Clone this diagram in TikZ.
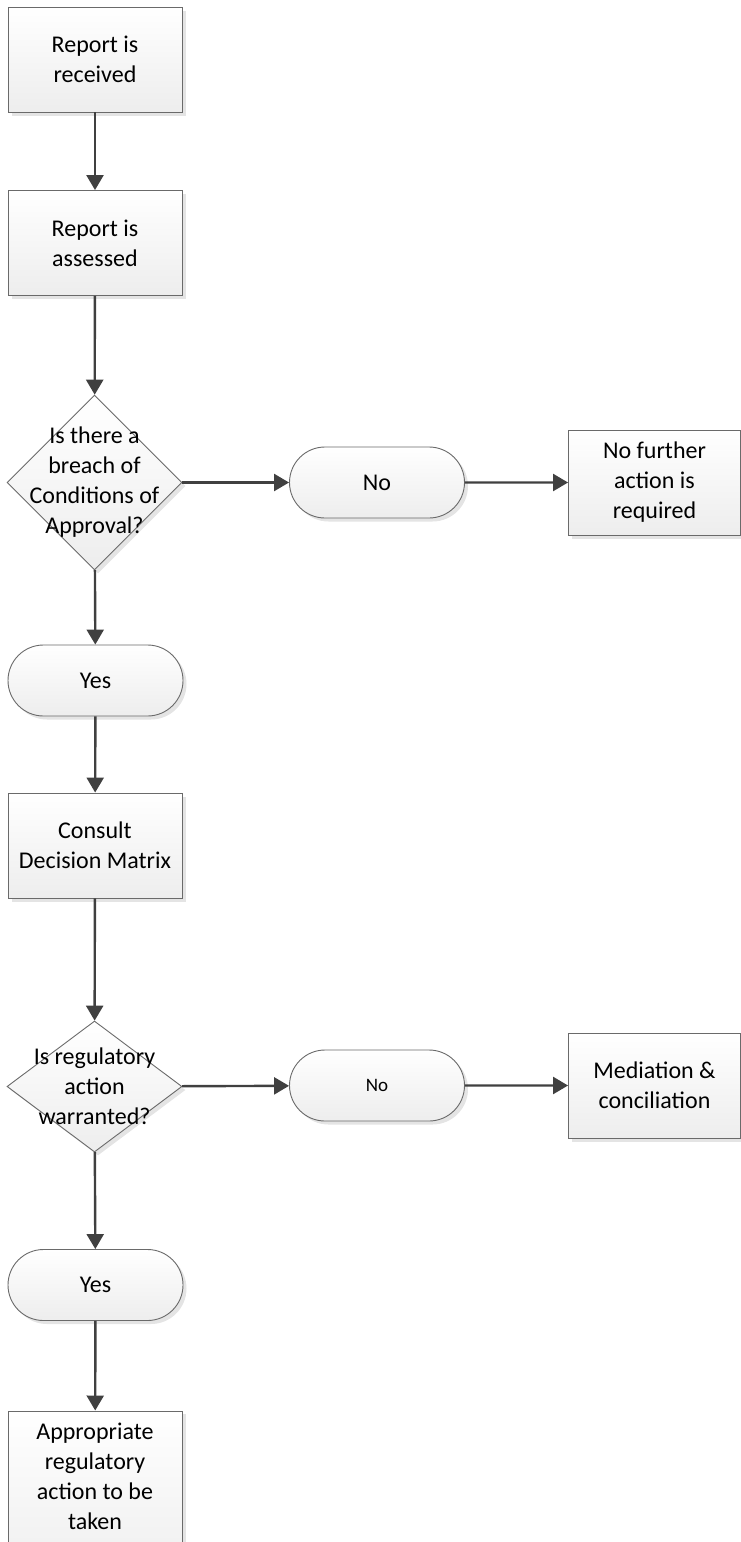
\documentclass[tikz,border=0pt]{standalone}
\usepackage{fontspec}
\setmainfont{Carlito}
\usetikzlibrary{shapes.geometric,shapes.misc,arrows.meta,shadows}
\definecolor{edge}{HTML}{6A6A6A}
\definecolor{arrowc}{HTML}{404040}
\tikzset{
  x=1pt, y=1pt,
  every node/.style={font=\fontsize{24}{30}\selectfont, text=black},
  shade/.style={top color=white, bottom color=gray!14, draw=edge, line width=0.9pt,
    drop shadow={shadow xshift=3.5pt, shadow yshift=-3.5pt, fill=gray!35, opacity=0.6}},
  procbox/.style={shade, rectangle, minimum width=174pt, minimum height=105pt, align=center, inner sep=2pt},
  sidebox/.style={shade, rectangle, minimum width=172pt, minimum height=105pt, align=center, inner sep=2pt},
  term/.style={shade, rounded rectangle, minimum width=175pt, minimum height=71pt, inner sep=0pt},
  decision/.style={shade, diamond, inner sep=0pt},
  dtext/.style={align=center, inner sep=0pt},
  conn/.style={draw=arrowc, line width=2.4pt, -{Triangle[length=15pt,width=17pt]}},
}
\begin{document}
\begin{tikzpicture}
\useasboundingbox (0,0) rectangle (741,-1542);
\begin{scope}
\clip (-5,5) rectangle (746,-1542);
\node[procbox] (r1) at (95,-59.5) {Report is\\received};
\node[procbox] (r2) at (95,-243) {Report is\\assessed};
\node[decision, minimum width=175pt, minimum height=175pt] (d1) at (94.5,-482.5) {};
\node[dtext] (d1t) at (d1.center) {Is there a\\breach of\\Conditions of\\Approval?};
\node[term] (n1) at (377,-482.5) {No};
\node[sidebox] (nfa) at (654.5,-482.5) {No further\\action is\\required};
\node[term] (y1) at (95.5,-680.5) {Yes};
\node[procbox] (cdm) at (95,-845.5) {Consult\\Decision Matrix};
\node[decision, minimum width=175pt, minimum height=131pt] (d2) at (94.5,-1086.5) {};
\node[dtext] (d2t) at (d2.center) {Is regulatory\\action\\warranted?};
\node[term, font=\fontsize{19}{22}\selectfont] (n2) at (377,-1085.5) {No};
\node[sidebox] (med) at (654.5,-1085.5) {Mediation \&\\conciliation};
\node[term] (y2) at (95.5,-1285) {Yes};
\node[procbox, minimum height=180pt, anchor=north] (fin) at (95,-1410.5) {};
\node[dtext, anchor=north] (fint) at (95,-1423) {Appropriate\\regulatory\\action to be\\taken};
\end{scope}
\draw[conn] (r1) -- (r2);
\draw[conn] (r2) -- (d1);
\draw[conn] (d1) -- (n1);
\draw[conn] (n1) -- (nfa);
\draw[conn] (d1) -- (y1);
\draw[conn] (y1) -- (cdm);
\draw[conn] (cdm) -- (d2);
\draw[conn] (d2) -- (n2);
\draw[conn] (n2) -- (med);
\draw[conn] (d2) -- (y2);
\draw[conn] (y2) -- (fin);
\end{tikzpicture}
\end{document}
